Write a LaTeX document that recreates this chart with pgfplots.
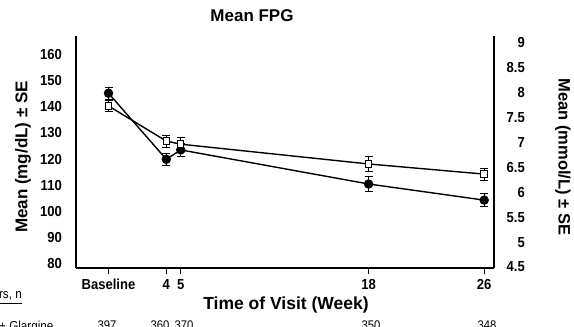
\documentclass[border=0pt]{standalone}
\usepackage{fontspec}
\setmainfont{Liberation Sans}
\newfontfamily\cond{Liberation Sans}[FakeStretch=0.9]
\usepackage{pgfplots}
\usepackage{pgfplotstable}
\pgfplotsset{compat=1.18}
\pgfplotstableread{
x y e
0 145.3 2.3
4 119.9 2.2
5 123.5 2.4
18 110.4 2.9
26 104.2 2.4
}\filled
\pgfplotstableread{
x y e
0 140.4 2.2
4 126.9 2.3
5 125.7 2.5
18 118.1 3.0
26 114.2 2.3
}\open
\begin{document}
\begin{tikzpicture}[x=1pt,y=1pt]
\pgfplotsset{
  common/.style={
    scale only axis, width=418pt, height=232pt,
    at={(76pt,59pt)}, anchor=south west,
    xmin=-2.25, xmax=26.68,
    /pgf/number format/assume math mode=true,
    tick label style={font=\cond\fontsize{14.5}{15}\selectfont\bfseries},
    axis line style={line width=1.2pt},
    clip=false,
  }
}
\begin{axis}[common,
  axis x line*=bottom, axis y line*=left,
  ymin=78.1, ymax=167.3,
  ytick={80,90,...,160},
  xtick={0,4,5,18,26}, xticklabels={Baseline,4,5,18,26},
  tick align=outside,
  major tick length=6pt,
  ytick style={draw=none},
  xtick style={line width=1.2pt, black},
  yticklabel style={anchor=east, inner sep=0pt, xshift=-8pt},
  xticklabel style={anchor=north, inner sep=0pt, yshift=-5pt},
]
\addplot[black, line width=1.4pt, mark=*, mark size=4pt, mark options={solid, fill=black},
  error bars/.cd, y dir=both, y explicit,
  error bar style={line width=1pt, black},
  error mark options={rotate=90, mark size=4pt, line width=1pt, black}]
  table[x=x, y=y, y error=e]{\filled};
\addplot[black, line width=1.4pt, mark=square*, mark size=3.2pt, mark options={solid, fill=white, line width=1pt},
  error bars/.cd, y dir=both, y explicit,
  error bar style={line width=1pt, black},
  error mark options={rotate=90, mark size=4pt, line width=1pt, black}]
  table[x=x, y=y, y error=e]{\open};
\end{axis}
\begin{axis}[common,
  axis y line*=right, axis x line=none,
  ymin=4.48, ymax=9.14,
  ytick={4.5,5,5.5,6,6.5,7,7.5,8,8.5,9},
  ytick style={draw=none},
  yticklabel={\pgfmathprintnumber[fixed,precision=1]{\tick}},
  yticklabel style={anchor=east, inner sep=0pt, xshift=31pt},
]
\addplot[draw=none] coordinates {(0,5)};
\end{axis}
\node[font=\fontsize{17}{18}\selectfont\bfseries] at (252,311.5) {Mean FPG};
\node[font=\fontsize{17}{18}\selectfont\bfseries, rotate=90] at (23,170) {Mean (mg/dL) ± SE};
\node[font=\fontsize{16.5}{18}\selectfont\bfseries, rotate=-90] at (563,170) {Mean (mmol/L) ± SE};
\node[font=\fontsize{17.5}{18}\selectfont\bfseries] at (286,22) {Time of Visit (Week)};
\node[font=\cond\fontsize{13}{14}\selectfont, anchor=base east, inner sep=0pt] at (22,28) {\underline{Completers, n}};
\node[font=\cond\fontsize{13}{14}\selectfont, anchor=base west, inner sep=0pt] at (-1,-4) {+ Glargine};
\begin{scope}[every node/.style={font=\cond\fontsize{12.5}{14}\selectfont, anchor=base, inner sep=0pt}]
\node at (107,-3) {397};
\node at (160,-3) {360};
\node at (184,-3) {370};
\node at (371,-3) {350};
\node at (487,-3) {348};
\end{scope}
\pgfresetboundingbox
\useasboundingbox (0,0) rectangle (574,327);
\end{tikzpicture}
\end{document}
